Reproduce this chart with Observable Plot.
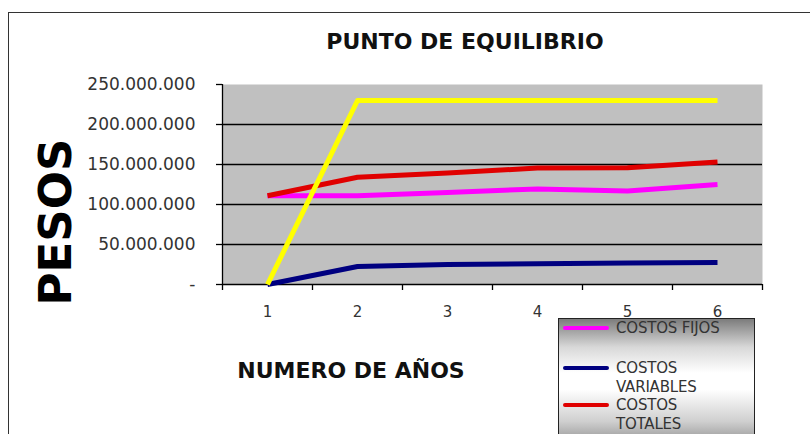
<!DOCTYPE html>
<html>
<head>
<meta charset="utf-8">
<script src="https://cdn.jsdelivr.net/npm/d3@7"></script>
<script src="https://cdn.jsdelivr.net/npm/@observablehq/plot@0.6"></script>
<style>
  html, body { margin: 0; padding: 0; background: #fff; }
  #wrap { position: relative; width: 810px; height: 434px; overflow: hidden; font-family: "DejaVu Sans", sans-serif; }
  #frame { position: absolute; left: 8px; top: 12px; width: 820px; height: 440px; border: 1.5px solid #333; box-sizing: border-box; }
  #chart { position: absolute; left: 0; top: 0; }
  .ov { position: absolute; white-space: nowrap; }
  #title { left: 465px; top: 41px; transform: translate(-50%, -50%); font: bold 22px "DejaVu Sans"; color: #111; }
  #xlabel { left: 351px; top: 370px; transform: translate(-50%, -50%); font: bold 22px "DejaVu Sans"; color: #111; }
  #ylabel { left: 55px; top: 222px; transform: translate(-50%, -50%) rotate(-90deg); font: bold 45px "DejaVu Sans"; color: #000; }
  #legend { position: absolute; left: 558px; top: 318px; width: 197px; height: 130px; border: 1px solid #222; box-sizing: border-box;
    background: linear-gradient(to bottom, #7c7c7c 0%, #d8d8d8 22%, #ffffff 42%, #ffffff 55%, #cfcfcf 80%, #8a8a8a 100%); }
  .li { position: absolute; left: 4px; display: flex; align-items: flex-start; }
  .sw { width: 46px; height: 4px; margin-top: 7px; border-radius: 2px; }
  .lt { margin-left: 7px; font: 15px/18.5px "DejaVu Sans"; color: #333; letter-spacing: -0.2px; }
</style>
</head>
<body>
<div id="wrap">
  <div id="frame"></div>
  <div id="chart"></div>
  <div class="ov" id="title"></div>
  <div class="ov" id="xlabel"></div>
  <div class="ov" id="ylabel"></div>
  <div id="legend"></div>
</div>
<script>
// ---- data ----
const years = [1, 2, 3, 4, 5, 6];
const costosFijos = [111e6, 111e6, 115e6, 119.5e6, 117e6, 125e6];
const costosVariables = [0, 22.5e6, 25e6, 26e6, 27e6, 27.5e6];
const costosTotales = [111e6, 134e6, 139.5e6, 145.5e6, 146e6, 153e6];
const ingresos = [0, 230e6, 230e6, 230e6, 230e6, 230e6];
const yTicks = [0, 50e6, 100e6, 150e6, 200e6, 250e6];

const titleText = "PUNTO DE EQUILIBRIO";
const xLabelText = "NUMERO DE AÑOS";
const yLabelText = "PESOS";

const seriesNames = ["COSTOS FIJOS", "COSTOS VARIABLES", "COSTOS TOTALES", "INGRESOS"];
const seriesColors = ["#ff00ff", "#000080", "#e00000", "#ffff00"];
const legendNames = [["COSTOS FIJOS"], ["COSTOS", "VARIABLES"], ["COSTOS", "TOTALES"]];

// ---- build table ----
const seriesValues = [costosFijos, costosVariables, costosTotales, ingresos];
const drawOrder = [1, 0, 2, 3]; // variables, fijos, totales, ingresos (on top)
const rows = [];
for (const si of drawOrder) {
  years.forEach((yr, i) => rows.push({serie: seriesNames[si], year: yr, value: seriesValues[si][i]}));
}
const yMax = yTicks[yTicks.length - 1];
const xDomain = [years[0] - 0.5, years[years.length - 1] + 0.5];
const boundaries = [...years.map(y => y - 0.5), years[years.length - 1] + 0.5];
const gridTicks = yTicks.filter(t => t > 0 && t < yMax);
const fmt = v => v === 0 ? "-" : d3.format(",")(v).replace(/,/g, ".");

const chart = Plot.plot({
  width: 810,
  height: 434,
  marginLeft: 222,
  marginRight: 48,
  marginTop: 84,
  marginBottom: 150,
  style: {background: "transparent", fontFamily: "DejaVu Sans", overflow: "visible"},
  x: {domain: xDomain, axis: null},
  y: {domain: [0, yMax], axis: null},
  color: {domain: seriesNames, range: seriesColors},
  marks: [
    Plot.frame({fill: "#c0c0c0", stroke: "none"}),
    Plot.ruleY(gridTicks, {stroke: "#000", strokeWidth: 1.3}),
    Plot.ruleY([0], {stroke: "#000", strokeWidth: 1.3}),
    Plot.ruleX([xDomain[0]], {stroke: "#000", strokeWidth: 1.3}),
    Plot.axisY(yTicks, {label: null, tickSize: 6, tickPadding: 21, tickFormat: fmt, fontSize: 17, color: "#333", stroke: "#000", strokeWidth: 1.3}),
    Plot.axisX(boundaries, {label: null, tickSize: 6, tickFormat: () => "", stroke: "#000", strokeWidth: 1.3}),
    Plot.axisX(years, {label: null, tickSize: 0, tickPadding: 22, fontSize: 15, color: "#333"}),
    Plot.line(rows, {x: "year", y: "value", z: "serie", stroke: "serie", strokeWidth: 5, strokeLinejoin: "round", strokeLinecap: "butt"})
  ]
});
document.getElementById("chart").appendChild(chart);

document.getElementById("title").textContent = titleText;
document.getElementById("xlabel").textContent = xLabelText;
document.getElementById("ylabel").textContent = yLabelText;

const legend = document.getElementById("legend");
const legendTops = [0, 40, 77];
legendNames.forEach((lines, i) => {
  const item = document.createElement("div");
  item.className = "li";
  item.style.top = legendTops[i] + "px";
  const sw = document.createElement("div");
  sw.className = "sw";
  sw.style.background = seriesColors[i];
  const lt = document.createElement("div");
  lt.className = "lt";
  lt.innerHTML = lines.join("<br>");
  item.appendChild(sw);
  item.appendChild(lt);
  legend.appendChild(item);
});
</script>
</body>
</html>
